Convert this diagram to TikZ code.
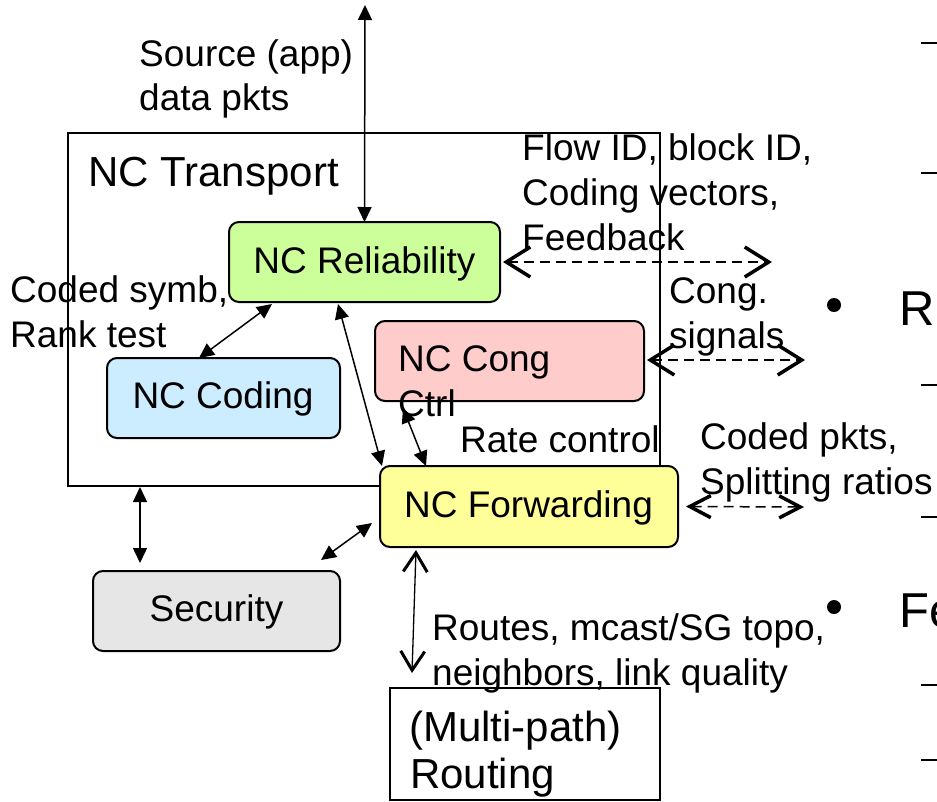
\documentclass[tikz,border=0pt]{standalone}
\usepackage{fontspec}
\setmainfont{Liberation Sans}
\usetikzlibrary{arrows.meta,calc}

\definecolor{relfill}{RGB}{204,255,153}
\definecolor{codfill}{RGB}{204,236,255}
\definecolor{congfill}{RGB}{255,204,204}
\definecolor{fwdfill}{RGB}{255,255,153}
\definecolor{secfill}{RGB}{230,230,230}

\begin{document}
\begin{tikzpicture}[x=1pt,y=-1pt,
  blk/.style={draw=black, line width=2pt, rounded corners=10pt, inner sep=0pt, outer sep=0pt},
  plainbox/.style={draw=black, line width=1.6pt, inner sep=0pt, outer sep=0pt},
  lbl/.style={anchor=base west, inner sep=0pt, font=\fontsize{37}{45}\selectfont},
  boxtxt/.style={anchor=base, inner sep=0pt, font=\fontsize{37}{45}\selectfont},
  routetxt/.style={anchor=base west, inner sep=0pt, font=\fontsize{42}{47}\selectfont},
  big/.style={anchor=base west, inner sep=0pt, font=\fontsize{49}{58}\selectfont},
  link/.style={line width=1.5pt, {Triangle[length=15pt,width=14pt]}-{Triangle[length=15pt,width=14pt]}},
  iface/.style={line width=1.5pt, dash pattern=on 10pt off 6pt,
    {Straight Barb[length=24pt,width=30pt,line width=3.5pt]}-{Straight Barb[length=24pt,width=30pt,line width=3.5pt]}},
  smalliface/.style={line width=1.5pt, dash pattern=on 10pt off 6pt,
    {Straight Barb[length=21pt,width=22pt,line width=3.5pt]}-{Straight Barb[length=21pt,width=22pt,line width=3.5pt]}},
  routelink/.style={line width=1.3pt,
    {Straight Barb[length=19pt,width=24pt,line width=3pt]}-{Straight Barb[length=19pt,width=24pt,line width=3pt]}},
  dashmark/.style={line width=2.5pt}]

\useasboundingbox (0,0) rectangle (937,801);

% transport container
\node[plainbox, minimum width=592pt, minimum height=353pt] (transport) at (364,309.5) {};

% functional blocks
\node[blk, fill=relfill, minimum width=271pt, minimum height=80pt] (rel) at (364.5,262) {};
\node[blk, fill=codfill, minimum width=233pt, minimum height=80pt] (coding) at (223.5,398) {};
\node[blk, fill=congfill, minimum width=269pt, minimum height=80pt] (cong) at (509.5,361) {};
\node[blk, fill=fwdfill, minimum width=298pt, minimum height=81pt] (fwd) at (529,506.5) {};
\node[blk, fill=secfill, minimum width=247pt, minimum height=80pt] (sec) at (216.5,611) {};
\node[plainbox, fill=white, minimum width=270pt, minimum height=112pt] (routing) at (525,744) {};

% free ends of the outside interfaces
\coordinate (apptop) at (365,5);
\coordinate (relout) at (772,262);
\coordinate (congout) at (805,360);
\coordinate (fwdout) at (804,507);

% internal connectors
\draw[link] (apptop) -- (rel.north);
\draw[link] ($(coding.north west)+(92,0)$) -- ($(rel.south west)+(43,2)$);
\draw[link] ($(rel.south west)+(109,2)$) -- ($(fwd.north west)+(2,0)$);
\draw[link] ($(cong.south west)+(28,7)$) -- ($(fwd.north west)+(46,0)$);
\draw[link] ($(transport.south west)+(72,1)$) -- ($(sec.north west)+(47,-8)$);
\draw[link] ($(sec.north east)+(-19,-11)$) -- ($(fwd.north west)+(-8,57)$);
\draw[routelink] ($(fwd.south west)+(36,3)$) -- ($(routing.north west)+(22,-15)$);

% outside interfaces
\draw[iface] ($(rel.east)+(3,0)$) -- (relout);
\draw[iface] ($(cong.east)+(3,-1)$) -- (congout);
\draw[smalliface] ($(fwd.east)+(8,0)$) -- (fwdout);

% block names
\node[boxtxt] (relt) at (364.5,273) {NC Reliability};
\node[boxtxt] (codt) at (223,408) {NC Coding};
\node[lbl] (congt1) at (398,371) {NC Cong};
\node[lbl] (congt2) at (398,416) {Ctrl};
\node[boxtxt] (fwdt) at (528.5,517) {NC Forwarding};
\node[boxtxt] (sect) at (216.5,621) {Security};
\node[routetxt] (rout1) at (409,741) {(Multi-path)};
\node[routetxt] (rout2) at (410,788) {Routing};
\node[anchor=base west, inner sep=0pt, font=\fontsize{42}{50}\selectfont] (transt) at (88,186) {NC Transport};

% connector labels
\node[lbl] (src1) at (139,66) {Source (app)};
\node[lbl] (src2) at (139,110) {data pkts};
\node[lbl] (sym1) at (10,302) {Coded symb,};
\node[lbl] (sym2) at (10,347) {Rank test};
\node[lbl] (hdr1) at (522,160) {Flow ID, block ID,};
\node[lbl] (hdr2) at (522,205) {Coding vectors,};
\node[lbl] (hdr3) at (522,250) {Feedback};
\node[lbl] (cg1) at (669,303) {Cong.};
\node[lbl] (cg2) at (669,348) {signals};
\node[lbl] (rate) at (460,452) {Rate control};
\node[lbl] (pk1) at (700,449) {Coded pkts,};
\node[lbl] (pk2) at (700,494) {Splitting ratios};
\node[lbl] (rt1) at (432,640) {Routes, mcast/SG topo,};
\node[lbl] (rt2) at (432,685) {neighbors, link quality};

% bullet list at the right edge
\foreach \yy in {43,173,385,517,685,760}
  \draw[dashmark] (921,\yy) -- (940,\yy);
\fill (834,305) circle (7pt);
\fill (834,607) circle (7pt);
\node[big] (bR) at (899,325) {R};
\node[big] (bF) at (899,627) {Fe};
\end{tikzpicture}
\end{document}
